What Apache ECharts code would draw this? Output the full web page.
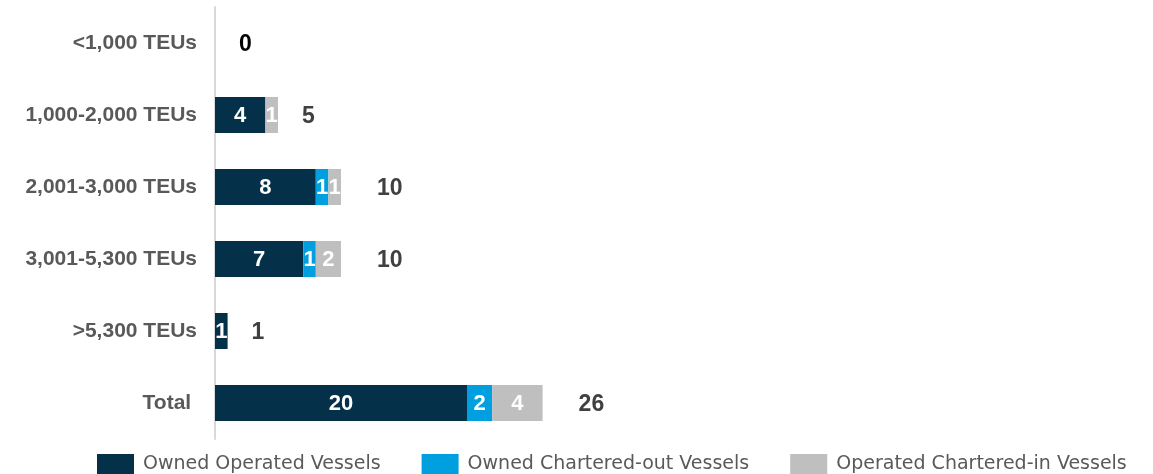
<!DOCTYPE html>
<html>
<head>
<meta charset="utf-8">
<script src="https://cdn.jsdelivr.net/npm/echarts@6/dist/echarts.min.js"></script>
<style>
  html, body { margin: 0; padding: 0; background: #fff; }
  #chart { width: 1153px; height: 474px; }
</style>
</head>
<body>
<div id="chart"></div>
<script>
const categories = ['<1,000 TEUs', '1,000-2,000 TEUs', '2,001-3,000 TEUs', '3,001-5,300 TEUs', '>5,300 TEUs', 'Total']
const ownedOperated = [0, 4, 8, 7, 1, 20]
const ownedChartered = [0, 0, 1, 1, 0, 2]
const charteredIn = [0, 1, 1, 2, 0, 4]
const totals = [0, 5, 10, 10, 1, 26]

const chart = echarts.init(document.getElementById('chart'))

const boldFont = '"Liberation Sans", Arial, sans-serif'

const segLabel = {
  show: true,
  position: 'inside',
  offset: [0, 1],
  color: '#fff',
  fontFamily: boldFont,
  fontWeight: 'bold',
  fontSize: 22,
  formatter: p => (p.value ? p.value : '')
}

const mkSeries = (name, data, color) => ({
  name,
  type: 'bar',
  stack: 'fleet',
  data,
  barWidth: 36,
  itemStyle: { color },
  label: segLabel,
  emphasis: { disabled: true }
})

// total labels sit a bit further out when they have two digits
const totalData = totals.map(v => ({
  value: v,
  label: { distance: String(v).length > 1 ? 36 : 24 }
}))

chart.setOption({
  animation: false,
  backgroundColor: '#fff',
  grid: { left: 215, top: 7, width: 378, height: 432 },
  xAxis: {
    type: 'value',
    min: 0,
    max: 30,
    show: false
  },
  yAxis: {
    type: 'category',
    inverse: true,
    data: categories,
    axisLine: { show: true, lineStyle: { color: '#d9d9d9', width: 2 } },
    axisTick: { show: false },
    axisLabel: {
      margin: 18,
      color: '#595959',
      fontFamily: boldFont,
      fontWeight: 'bold',
      fontSize: 21,
      formatter: v => (v === 'Total' ? v + ' ' : v)
    }
  },
  legend: {
    left: 97,
    top: 454,
    padding: 0,
    itemWidth: 37,
    itemHeight: 20,
    itemGap: 41,
    icon: 'rect',
    textStyle: {
      color: '#595959',
      fontFamily: '"DejaVu Sans", sans-serif',
      fontSize: 19,
      padding: [3, 0, 0, 4]
    },
    data: ['Owned Operated Vessels', 'Owned Chartered-out Vessels', 'Operated Chartered-in Vessels']
  },
  series: [
    mkSeries('Owned Operated Vessels', ownedOperated, '#04304a'),
    mkSeries('Owned Chartered-out Vessels', ownedChartered, '#009fdf'),
    mkSeries('Operated Chartered-in Vessels', charteredIn, '#bfbfbf'),
    {
      name: 'Total',
      type: 'bar',
      data: totalData,
      barWidth: 36,
      barGap: '-100%',
      itemStyle: { color: 'transparent' },
      silent: true,
      z: 1,
      label: {
        show: true,
        position: 'right',
        offset: [0, 2],
        fontFamily: boldFont,
        fontWeight: 'bold',
        fontSize: 23,
        color: '#404040',
        formatter: p => (p.value === 0 ? '{z|0}' : String(p.value)),
        rich: { z: { color: '#000', fontWeight: 'bold', fontSize: 23, fontFamily: boldFont } }
      }
    }
  ]
})

window.addEventListener('resize', () => chart.resize())
</script>
</body>
</html>
